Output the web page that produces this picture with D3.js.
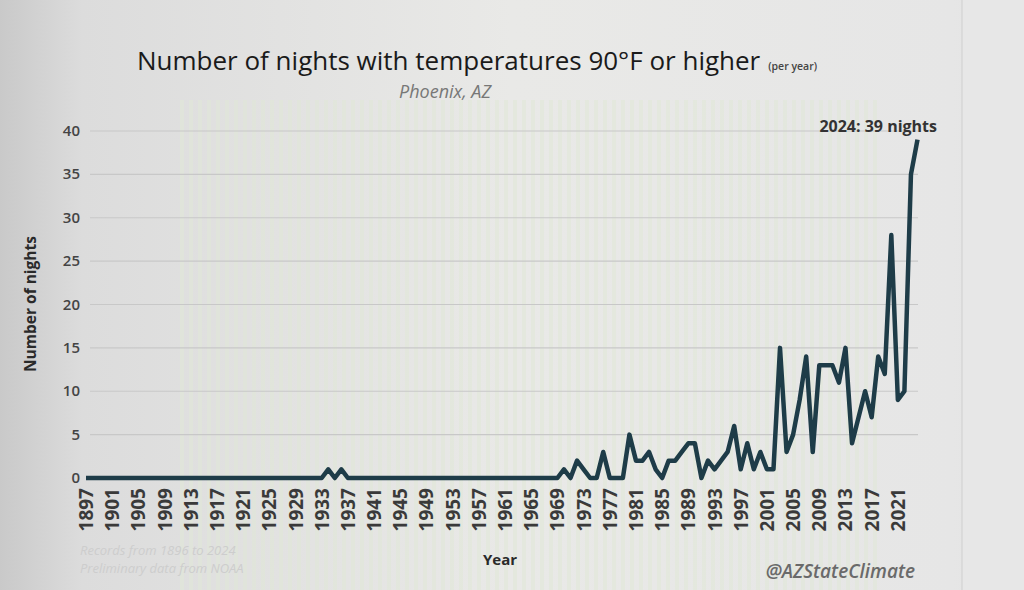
<!DOCTYPE html>
<html>
<head>
<meta charset="utf-8">
<script src="https://cdn.jsdelivr.net/npm/d3@7"></script>
<style>
  html, body { margin: 0; padding: 0; background: #dedede; }
  svg { display: block; }
</style>
</head>
<body>
<div id="chart"></div>
<script>
// nights with low >= 90F per year, Phoenix
var years = d3.range(1897, 2025);
var nonZero = {
  1934: 1, 1936: 1,
  1970: 1, 1972: 2, 1973: 1, 1976: 3, 1980: 5, 1981: 2, 1982: 2, 1983: 3,
  1984: 1, 1986: 2, 1987: 2, 1988: 3, 1989: 4, 1990: 4, 1992: 2, 1993: 1,
  1994: 2, 1995: 3, 1996: 6, 1997: 1, 1998: 4, 1999: 1, 2000: 3, 2001: 1,
  2002: 1, 2003: 15, 2004: 3, 2005: 5, 2006: 9, 2007: 14, 2008: 3, 2009: 13,
  2010: 13, 2011: 13, 2012: 11, 2013: 15, 2014: 4, 2015: 7, 2016: 10, 2017: 7,
  2018: 14, 2019: 12, 2020: 28, 2021: 9, 2022: 10, 2023: 35, 2024: 39
};
var nights = years.map(function(y) { return nonZero[y] || 0; });
var yTicks = [0, 5, 10, 15, 20, 25, 30, 35, 40];
var xLabels = years.filter(function(y) { return (y - 1897) % 4 === 0; });

var width = 1024, height = 590;
var svg = d3.select("#chart").append("svg")
    .attr("width", width)
    .attr("height", height);

var defs = svg.append("defs");
var bg = defs.append("linearGradient").attr("id", "bg")
    .attr("x1", 0).attr("x2", 1).attr("y1", 0).attr("y2", 0);
bg.append("stop").attr("offset", "0").attr("stop-color", "#c9c9c9");
bg.append("stop").attr("offset", "0.08").attr("stop-color", "#dcdcdc");
bg.append("stop").attr("offset", "0.5").attr("stop-color", "#e9e9e7");
bg.append("stop").attr("offset", "0.93").attr("stop-color", "#e6e6e6");
bg.append("stop").attr("offset", "1").attr("stop-color", "#e2e2e2");

// moire stripes from the screen photo
var pat = defs.append("pattern").attr("id", "stripes")
    .attr("patternUnits", "userSpaceOnUse").attr("width", 9).attr("height", 9);
pat.append("rect").attr("width", 4).attr("height", 9).attr("fill", "#dfe6d6").attr("opacity", 0.55);

svg.append("rect").attr("width", width).attr("height", height).attr("fill", "url(#bg)");
svg.append("rect").attr("x", 180).attr("y", 100).attr("width", 700).attr("height", 490)
    .attr("fill", "url(#stripes)");
svg.append("rect").attr("x", 962).attr("y", 0).attr("width", 62).attr("height", height)
    .attr("fill", "#e7e7e7");
svg.append("line").attr("x1", 962).attr("x2", 962).attr("y1", 0).attr("y2", height)
    .attr("stroke", "#cfcfcf");

var x = d3.scalePoint().domain(years).range([86, 917.5]);
var y = d3.scaleLinear().domain([0, 40]).range([478, 131]);

var font = "'Open Sans', 'Liberation Sans', sans-serif";

// gridlines
svg.append("g").selectAll("line")
    .data(yTicks.filter(function(d) { return d > 0; }))
  .enter().append("line")
    .attr("x1", 90).attr("x2", 918)
    .attr("y1", function(d) { return y(d); })
    .attr("y2", function(d) { return y(d); })
    .attr("stroke", "#c8c8c8")
    .attr("stroke-width", 1.2);

// y tick labels
svg.append("g").selectAll("text")
    .data(yTicks)
  .enter().append("text")
    .attr("x", 80)
    .attr("y", function(d) { return y(d) + 5; })
    .attr("text-anchor", "end")
    .attr("font-family", font)
    .attr("font-weight", 600)
    .attr("font-size", "15px")
    .attr("fill", "#444")
    .text(function(d) { return d; });

// x tick labels, rotated
svg.append("g").selectAll("text")
    .data(xLabels)
  .enter().append("text")
    .attr("transform", function(d) { return "translate(" + (x(d) + 7) + ",488)rotate(-90)"; })
    .attr("text-anchor", "end")
    .attr("font-family", font)
    .attr("font-weight", 700)
    .attr("font-size", "19px")
    .attr("fill", "#3a3a3a")
    .text(function(d) { return d; });

// the line
var line = d3.line()
    .x(function(d, i) { return x(years[i]); })
    .y(function(d) { return y(d); });

svg.append("path")
    .datum(nights)
    .attr("d", line)
    .attr("fill", "none")
    .attr("stroke", "#1e3c48")
    .attr("stroke-width", 4.5)
    .attr("stroke-linejoin", "round");

// titles
var title = svg.append("text")
    .attr("x", 137).attr("y", 70)
    .attr("font-family", font)
    .attr("font-weight", 500)
    .attr("font-size", "26px")
    .attr("fill", "#1a1a1a");
title.append("tspan").text("Number of nights with temperatures 90°F or higher");
title.append("tspan").attr("dx", 8).attr("font-size", "10.5px").attr("font-weight", 600)
    .attr("fill", "#444").text("(per year)");

svg.append("text")
    .attr("x", 445).attr("y", 98)
    .attr("text-anchor", "middle")
    .attr("font-family", font)
    .attr("font-style", "italic")
    .attr("font-size", "18px")
    .attr("fill", "#777")
    .text("Phoenix, AZ");

svg.append("text")
    .attr("x", 937).attr("y", 132)
    .attr("text-anchor", "end")
    .attr("font-family", font)
    .attr("font-weight", 700)
    .attr("font-size", "16px")
    .attr("fill", "#333")
    .text("2024: 39 nights");

svg.append("text")
    .attr("transform", "translate(36,304)rotate(-90)")
    .attr("text-anchor", "middle")
    .attr("font-family", font)
    .attr("font-weight", 700)
    .attr("font-size", "15.5px")
    .attr("fill", "#2a2a2a")
    .text("Number of nights");

svg.append("text")
    .attr("x", 500).attr("y", 565)
    .attr("text-anchor", "middle")
    .attr("font-family", font)
    .attr("font-weight", 700)
    .attr("font-size", "15px")
    .attr("fill", "#2a2a2a")
    .text("Year");

svg.append("text")
    .attr("x", 915).attr("y", 578)
    .attr("text-anchor", "end")
    .attr("font-family", font)
    .attr("font-style", "italic")
    .attr("font-weight", 600)
    .attr("font-size", "19px")
    .attr("fill", "#6a6a6a")
    .text("@AZStateClimate");

var notes = ["Records from 1896 to 2024", "Preliminary data from NOAA"];
svg.append("g").selectAll("text")
    .data(notes)
  .enter().append("text")
    .attr("x", 80)
    .attr("y", function(d, i) { return 555 + i * 18; })
    .attr("font-family", font)
    .attr("font-style", "italic")
    .attr("font-size", "13px")
    .attr("fill", "#cdcdcd")
    .text(function(d) { return d; });
</script>
</body>
</html>
